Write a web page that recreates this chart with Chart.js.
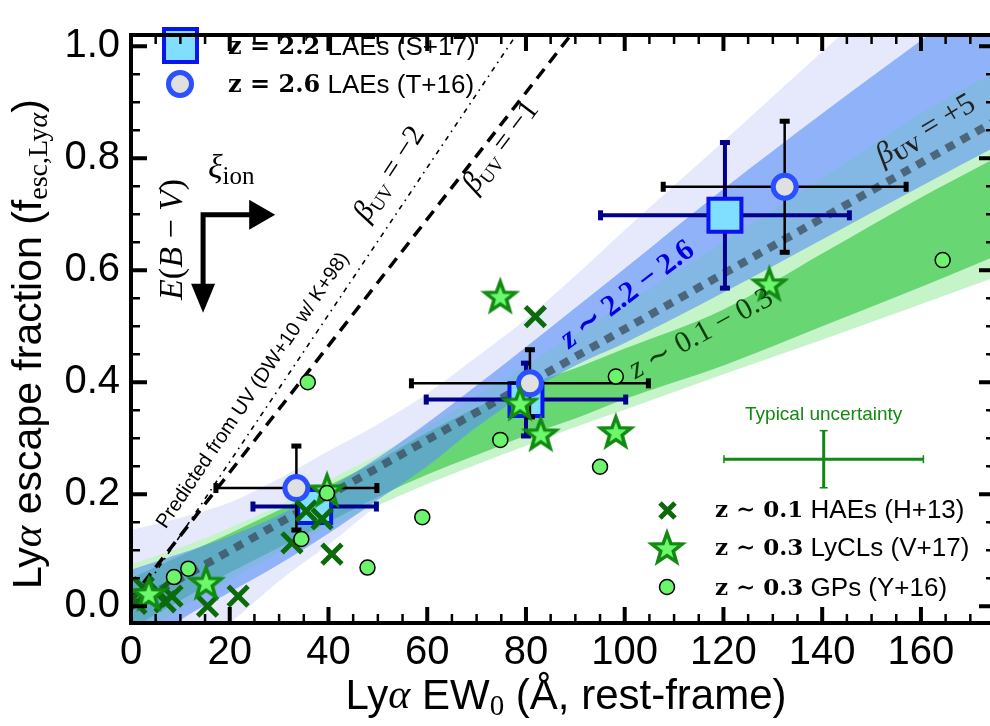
<!DOCTYPE html>
<html>
<head>
<meta charset="utf-8">
<script src="https://cdn.jsdelivr.net/npm/chart.js@4"></script>
<style>
  html, body { margin: 0; padding: 0; background: #fff; overflow: hidden; }
  #wrap { width: 1000px; height: 726px; }
</style>
</head>
<body>
<div id="wrap"><canvas id="myChart" width="1000" height="726"></canvas></div>
<script>
// ---- data ----
// z=2.2 LAEs (S+17)
const lae22_x    = [37.2, 80.0, 120.3];
const lae22_y    = [0.178, 0.369, 0.698];
const lae22_xerr = [12.5, 20.2, 25.2];
const lae22_yerr = [0.02, 0.065, 0.13];
// z=2.6 LAEs (T+16)
const lae26_x    = [33.5, 80.8, 132.4];
const lae26_y    = [0.211, 0.398, 0.749];
const lae26_xerr = [16.3, 24.0, 24.6];
const lae26_yerr = [0.075, 0.06, 0.117];
// z~0.1 HAEs (H+13)
const hae_x = [1.0, 2.5, 5.6, 6.9, 8.3, 15.5, 21.7, 32.6, 35.5, 38.7, 40.7, 81.9];
const hae_y = [0.005, 0.033, 0.025, 0.008, 0.018, 0.0, 0.018, 0.113, 0.17, 0.156, 0.093, 0.517];
// z~0.3 LyCLs (V+17)
const lycl_x = [3.6, 15.2, 39.7, 74.8, 78.8, 83.0, 98.2, 129.3];
const lycl_y = [0.022, 0.042, 0.207, 0.553, 0.362, 0.307, 0.311, 0.575];
// z~0.3 GPs (Y+16)
const gp_x = [8.7, 11.6, 34.5, 35.8, 39.7, 47.9, 59.0, 74.8, 95.0, 98.2, 164.4];
const gp_y = [0.052, 0.067, 0.12, 0.40, 0.202, 0.069, 0.159, 0.297, 0.249, 0.41, 0.618];
// typical uncertainty
const typ_x = [140.3], typ_y = [0.2625], typ_xerr = [20.2], typ_yerr = [0.051];

// lines (beta_UV = +5, -1, -2)
const beta5_x  = [0, 175],  beta5_y  = [0, 0.866];
const betaM1_x = [0, 92],   betaM1_y = [0.013, 1.053];
const betaM2_x = [0, 80],   betaM2_y = [-0.005, 1.046];

// shaded bands (edges sampled on this grid)
const bandX     = [0, 10, 20, 30, 40, 50, 60, 70, 80, 90, 100, 120, 140, 160, 175];
const lavUpper  = [0.136, 0.158, 0.185, 0.228, 0.277, 0.325, 0.38, 0.445, 0.513, 0.59, 0.672, 0.83, 0.99, 1.15, 1.27];
const lavLower  = [-0.15, -0.09, -0.03, 0.045, 0.11, 0.18, 0.235, 0.28, 0.32, 0.36, 0.40, 0.475, 0.55, 0.635, 0.70];
const blueUpper = [0.065, 0.094, 0.125, 0.163, 0.21, 0.265, 0.327, 0.394, 0.463, 0.533, 0.603, 0.745, 0.88, 1.01, 1.11];
const blueLower = [-0.10, -0.025, 0.025, 0.075, 0.13, 0.19, 0.25, 0.32, 0.38, 0.43, 0.47, 0.56, 0.655, 0.75, 0.82];
const lgUpper   = [0.075, 0.105, 0.14, 0.18, 0.225, 0.27, 0.32, 0.375, 0.43, 0.485, 0.54, 0.65, 0.765, 0.88, 0.955];
const lgLower   = [-0.06, -0.005, 0.047, 0.096, 0.141, 0.18, 0.218, 0.253, 0.2865, 0.32, 0.351, 0.414, 0.476, 0.539, 0.5875];
const gUpper    = [0.05, 0.09, 0.13, 0.172, 0.215, 0.26, 0.31, 0.355, 0.395, 0.425, 0.46, 0.53, 0.63, 0.73, 0.80];
const gLower    = [-0.04, 0.01, 0.06, 0.105, 0.15, 0.195, 0.235, 0.27, 0.305, 0.335, 0.37, 0.43, 0.50, 0.57, 0.625];

// axes
const xMin = 0, xMax = 175, xStep = 20, xMinor = 5;
const yMin = -0.03, yMax = 1.02, yStep = 0.2, yMinor = 0.05;

const SANS = 'Liberation Sans';
const SERIF = 'Liberation Serif';

function pts(xs, ys) { return xs.map((x, i) => ({ x: x, y: ys[i] })); }

// 5 point star marker for LyCLs
function makeStar(R, r, lw) {
  const c = document.createElement('canvas');
  const s = Math.ceil(2 * R + lw + 4);
  c.width = s; c.height = s;
  const g = c.getContext('2d');
  g.translate(s / 2, s / 2 + 1);
  g.beginPath();
  for (let i = 0; i < 10; i++) {
    const rad = i % 2 ? r : R;
    const ang = -Math.PI / 2 + i * Math.PI / 5;
    g.lineTo(rad * Math.cos(ang), rad * Math.sin(ang));
  }
  g.closePath();
  g.fillStyle = '#6cf76c'; g.fill();
  g.lineWidth = lw; g.strokeStyle = '#128a12'; g.lineJoin = 'miter'; g.stroke();
  return c;
}
const starImg = makeStar(16, 6.6, 3.5);

function band(xs, ys, color, fill, order) {
  return { data: pts(xs, ys), borderWidth: 0, pointRadius: 0, backgroundColor: color,
           fill: fill, order: order, cubicInterpolationMode: 'monotone' };
}

// error bars, drawn just under the markers of each dataset
const errorBars = {
  id: 'errorBars',
  beforeDatasetDraw(chart, args) {
    const ds = chart.data.datasets[args.index];
    if (!ds.errX) return;
    const ctx = chart.ctx, xs = chart.scales.x, ys = chart.scales.y;
    ctx.save();
    ctx.strokeStyle = ds.errColor; ctx.fillStyle = ds.errColor; ctx.lineWidth = ds.errWidth;
    ds.data.forEach((p, i) => {
      const px = xs.getPixelForValue(p.x), py = ys.getPixelForValue(p.y);
      const x0 = xs.getPixelForValue(p.x - ds.errX[i]), x1 = xs.getPixelForValue(p.x + ds.errX[i]);
      const y0 = ys.getPixelForValue(p.y - ds.errY[i]), y1 = ys.getPixelForValue(p.y + ds.errY[i]);
      ctx.beginPath();
      ctx.moveTo(x0, py); ctx.lineTo(x1, py);
      ctx.moveTo(px, y0); ctx.lineTo(px, y1);
      ctx.stroke();
      const c = ds.capSize, t = ds.capThick;
      ctx.fillRect(x0 - t / 2, py - c, t, 2 * c);
      ctx.fillRect(x1 - t / 2, py - c, t, 2 * c);
      ctx.fillRect(px - c, y0 - t / 2, 2 * c, t);
      ctx.fillRect(px - c, y1 - t / 2, 2 * c, t);
    });
    ctx.restore();
  }
};

// text made of several runs (for the math bits)
function drawRuns(ctx, runs, x, y, rot, align) {
  ctx.save();
  ctx.translate(x, y);
  ctx.rotate((rot || 0) * Math.PI / 180);
  let w = 0;
  runs.forEach(r => { ctx.font = r.f; r.w = ctx.measureText(r.t).width; w += r.w; });
  let cx = align === 'left' ? 0 : -w / 2;
  ctx.textBaseline = 'middle'; ctx.textAlign = 'left';
  runs.forEach(r => {
    ctx.font = r.f; ctx.fillStyle = r.c || '#000';
    ctx.fillText(r.t, cx, r.dy || 0);
    cx += r.w;
  });
  ctx.restore();
}

// labels, arrows and legends
const annotations = {
  id: 'annotations',
  afterDatasetsDraw(chart) {
    const ctx = chart.ctx, X = v => chart.scales.x.getPixelForValue(v), Y = v => chart.scales.y.getPixelForValue(v);

    // line labels
    drawRuns(ctx, [{ t: 'β', f: 'italic 30px ' + SERIF }, { t: 'UV', f: '19px ' + SERIF, dy: 8 }, { t: ' = −2', f: '30px ' + SERIF }],
      X(52.4), Y(0.772), -57);
    drawRuns(ctx, [{ t: 'β', f: 'italic 30px ' + SERIF }, { t: 'UV', f: '19px ' + SERIF, dy: 8 }, { t: ' = −1', f: '30px ' + SERIF }],
      X(75.0), Y(0.82), -53);
    drawRuns(ctx, [{ t: 'β', f: 'italic 31px ' + SERIF, c: '#222' }, { t: 'UV', f: 'bold 20px ' + SERIF, dy: 8, c: '#222' }, { t: ' = +5', f: '31px ' + SERIF, c: '#222' }],
      X(161.0), Y(0.85), -31);
    drawRuns(ctx, [{ t: 'Predicted from UV (DW+10 w/ K+98)', f: '20px ' + SANS }], X(24.7), Y(0.385), -56);
    drawRuns(ctx, [{ t: 'z', f: 'italic bold 31px ' + SERIF, c: '#0000e0' }, { t: ' ∼ 2.2 − 2.6', f: 'bold 30px ' + SERIF, c: '#0000e0' }],
      X(100.6), Y(0.556), -37);
    drawRuns(ctx, [{ t: 'z', f: 'italic 31px ' + SERIF, c: '#0b3d0b' }, { t: ' ∼ 0.1 − 0.3', f: '30px ' + SERIF, c: '#0b3d0b' }],
      X(115.5), Y(0.486), -28.5);
    drawRuns(ctx, [{ t: 'ξ', f: 'italic 34px ' + SERIF }, { t: 'ion', f: '25px ' + SERIF, dy: 8 }], X(20.3), Y(0.78), 0);
    drawRuns(ctx, [{ t: 'E', f: 'italic 34px ' + SERIF }, { t: '(', f: '34px ' + SERIF }, { t: 'B', f: 'italic 34px ' + SERIF },
      { t: ' − ', f: '34px ' + SERIF }, { t: 'V', f: 'italic 34px ' + SERIF }, { t: ')', f: '34px ' + SERIF }], X(8.6), Y(0.655), -90);

    // arrows
    const cx = X(14.6), cy = Y(0.699), hx = X(29.2), vy = Y(0.524);
    ctx.save();
    ctx.strokeStyle = '#000'; ctx.fillStyle = '#000'; ctx.lineWidth = 5;
    ctx.beginPath(); ctx.moveTo(hx - 24, cy); ctx.lineTo(cx, cy); ctx.lineTo(cx, vy - 27); ctx.stroke();
    ctx.beginPath(); ctx.moveTo(hx, cy); ctx.lineTo(hx - 26, cy - 15); ctx.lineTo(hx - 26, cy + 15); ctx.closePath(); ctx.fill();
    ctx.beginPath(); ctx.moveTo(cx, vy); ctx.lineTo(cx - 12, vy - 29); ctx.lineTo(cx + 12, vy - 29); ctx.closePath(); ctx.fill();
    ctx.restore();

    // typical uncertainty
    drawRuns(ctx, [{ t: 'Typical uncertainty', f: '19px ' + SANS, c: '#138813' }], X(140.3), Y(0.341), 0);

    // legend, upper left
    ctx.save();
    ctx.lineWidth = 4; ctx.fillStyle = '#80dfff'; ctx.strokeStyle = '#0a14f0';
    ctx.fillRect(164, 29, 33, 33); ctx.strokeRect(164, 29, 33, 33);
    ctx.beginPath(); ctx.arc(180, 84, 11.5, 0, 2 * Math.PI);
    ctx.fillStyle = '#e0e0e0'; ctx.fill(); ctx.lineWidth = 5; ctx.strokeStyle = '#2b50ff'; ctx.stroke();
    ctx.restore();
    drawRuns(ctx, [{ t: 'z = 2.2', f: 'bold 24px DejaVu Serif' }, { t: ' LAEs (S+17)', f: '26px ' + SANS }], 228, 48, 0, 'left');
    drawRuns(ctx, [{ t: 'z = 2.6', f: 'bold 24px DejaVu Serif' }, { t: ' LAEs (T+16)', f: '26px ' + SANS }], 228, 86, 0, 'left');

    // legend, lower right
    ctx.save();
    ctx.strokeStyle = '#0b6b0b'; ctx.lineWidth = 5;
    ctx.beginPath(); ctx.moveTo(660, 503); ctx.lineTo(675, 518); ctx.moveTo(675, 503); ctx.lineTo(660, 518); ctx.stroke();
    ctx.drawImage(starImg, 667 - starImg.width / 2, 548 - starImg.height / 2);
    ctx.beginPath(); ctx.arc(667, 587, 7.5, 0, 2 * Math.PI);
    ctx.fillStyle = '#6cf46c'; ctx.fill(); ctx.lineWidth = 1.5; ctx.strokeStyle = '#000'; ctx.stroke();
    ctx.restore();
    drawRuns(ctx, [{ t: 'z ∼ 0.1', f: 'bold 23px DejaVu Serif' }, { t: ' HAEs (H+13)', f: '26px ' + SANS }], 715, 511, 0, 'left');
    drawRuns(ctx, [{ t: 'z ∼ 0.3', f: 'bold 23px DejaVu Serif' }, { t: ' LyCLs (V+17)', f: '26px ' + SANS }], 715, 549, 0, 'left');
    drawRuns(ctx, [{ t: 'z ∼ 0.3', f: 'bold 23px DejaVu Serif' }, { t: ' GPs (Y+16)', f: '26px ' + SANS }], 715, 589, 0, 'left');
  },
  afterDraw(chart) {
    const ctx = chart.ctx, a = chart.chartArea, xs = chart.scales.x, ys = chart.scales.y;
    ctx.save();
    ctx.strokeStyle = '#000';
    // inward ticks on all four sides
    for (let k = 0; k * xMinor <= xMax; k++) {
      const v = k * xMinor, major = (v % xStep) === 0, len = major ? 16 : 9;
      const px = xs.getPixelForValue(v);
      ctx.lineWidth = major ? 4 : 2.5;
      ctx.beginPath();
      ctx.moveTo(px, a.bottom); ctx.lineTo(px, a.bottom - len);
      ctx.moveTo(px, a.top); ctx.lineTo(px, a.top + len);
      ctx.stroke();
    }
    const nMinor = Math.round(yStep / yMinor);
    for (let k = 0; k * yMinor <= yMax + 1e-9; k++) {
      const major = k % nMinor === 0, len = major ? 16 : 9;
      const py = ys.getPixelForValue(k * yMinor);
      ctx.lineWidth = major ? 4 : 2.5;
      ctx.beginPath();
      ctx.moveTo(a.left, py); ctx.lineTo(a.left + len, py);
      ctx.moveTo(a.right, py); ctx.lineTo(a.right - len, py);
      ctx.stroke();
    }
    ctx.lineWidth = 4;
    ctx.strokeRect(a.left, a.top, a.right - a.left, a.bottom - a.top);
    ctx.restore();

    // axis titles
    drawRuns(ctx, [{ t: 'Ly', f: '42px ' + SANS }, { t: 'α', f: 'italic 42px ' + SERIF }, { t: ' EW', f: '42px ' + SANS },
      { t: '0', f: '29px ' + SERIF, dy: 10 }, { t: ' (Å, rest-frame)', f: '42px ' + SANS }], 566, 697, 0);
    drawRuns(ctx, [{ t: 'Ly', f: '41px ' + SANS }, { t: 'α', f: 'italic 41px ' + SERIF }, { t: ' escape fraction (f', f: '41px ' + SANS },
      { t: 'esc,Ly', f: '28px ' + SERIF, dy: 10 }, { t: 'α', f: 'italic 28px ' + SERIF, dy: 10 }, { t: ')', f: '41px ' + SANS }], 30, 344, -90);
  }
};

const ctx = document.getElementById('myChart');
const myChart = new Chart(ctx, {
  type: 'line',
  data: {
    datasets: [
      band(bandX, lavLower, 'rgba(0,0,0,0)', false, 100),             // 0
      band(bandX, lavUpper, '#e6e8fc', '-1', 99),                      // 1
      band(bandX, lgLower, 'rgba(0,0,0,0)', false, 98),               // 2
      band(bandX, lgUpper, '#c6f4c9', '-1', 97),                       // 3
      band(bandX, gLower, 'rgba(0,0,0,0)', false, 96),                // 4
      band(bandX, gUpper, '#68d672', '-1', 95),                        // 5
      band(bandX, blueLower, 'rgba(0,0,0,0)', false, 94),             // 6
      band(bandX, blueUpper, 'rgba(90,145,245,0.62)', '-1', 93),       // 7
      { data: pts(beta5_x, beta5_y), borderColor: 'rgba(60,80,95,0.78)', borderWidth: 8, borderDash: [9, 8],
        pointRadius: 0, fill: false, order: 50 },
      { data: pts(betaM1_x, betaM1_y), borderColor: '#000', borderWidth: 3.5, borderDash: [12, 8],
        pointRadius: 0, fill: false, order: 49 },
      { data: pts(betaM2_x, betaM2_y), borderColor: '#000', borderWidth: 1.6, borderDash: [5, 5, 1.6, 5],
        pointRadius: 0, fill: false, order: 48 },
      { data: pts(typ_x, typ_y), showLine: false, pointRadius: 0, order: 30,
        errX: typ_xerr, errY: typ_yerr, errColor: '#138813', errWidth: 3, capSize: 4, capThick: 1.5 },
      { label: 'z = 2.2 LAEs (S+17)', data: pts(lae22_x, lae22_y), showLine: false, pointStyle: 'rect', pointRadius: 23.3,
        pointBorderWidth: 4, pointBorderColor: '#0a14f0', pointBackgroundColor: '#80dfff', order: 20,
        errX: lae22_xerr, errY: lae22_yerr, errColor: '#00008b', errWidth: 4, capSize: 5, capThick: 5 },
      { label: 'z = 2.6 LAEs (T+16)', data: pts(lae26_x, lae26_y), showLine: false, pointStyle: 'circle', pointRadius: 11.5,
        pointBorderWidth: 5, pointBorderColor: '#2b50ff', pointBackgroundColor: '#e0e0e0', order: 19,
        errX: lae26_xerr, errY: lae26_yerr, errColor: '#000', errWidth: 2.5, capSize: 5, capThick: 5 },
      { label: 'z ~ 0.1 HAEs (H+13)', data: pts(hae_x, hae_y), showLine: false, pointStyle: 'crossRot', pointRadius: 14,
        pointBorderWidth: 5, pointBorderColor: '#0b6b0b', order: 10 },
      { label: 'z ~ 0.3 LyCLs (V+17)', data: pts(lycl_x, lycl_y), showLine: false, pointStyle: starImg, pointRadius: 16,
        order: 9 },
      { label: 'z ~ 0.3 GPs (Y+16)', data: pts(gp_x, gp_y), showLine: false, pointStyle: 'circle', pointRadius: 7.5,
        pointBorderWidth: 1.5, pointBorderColor: '#000', pointBackgroundColor: '#6cf46c', order: 8 }
    ]
  },
  options: {
    responsive: false,
    animation: false,
    devicePixelRatio: 1,
    layout: { autoPadding: false, padding: { top: 11, right: 5, left: 0, bottom: 0 } },
    plugins: { legend: { display: false }, tooltip: { enabled: false } },
    elements: { point: { hoverRadius: 0 } },
    scales: {
      x: {
        type: 'linear', min: xMin, max: xMax,
        grid: { display: false, drawTicks: false }, border: { display: false },
        ticks: { stepSize: xStep, includeBounds: false, padding: 6, color: '#000', maxRotation: 0,
                 font: { family: SANS, size: 40 } },
        afterFit: s => { s.height = 103; }
      },
      y: {
        type: 'linear', min: yMin, max: yMax,
        grid: { display: false, drawTicks: false }, border: { display: false },
        ticks: { stepSize: yStep, includeBounds: false, padding: 11, color: '#000',
                 font: { family: SANS, size: 40 }, callback: v => v.toFixed(1) },
        afterFit: s => { s.width = 131; }
      }
    }
  },
  plugins: [errorBars, annotations]
});
</script>
</body>
</html>
